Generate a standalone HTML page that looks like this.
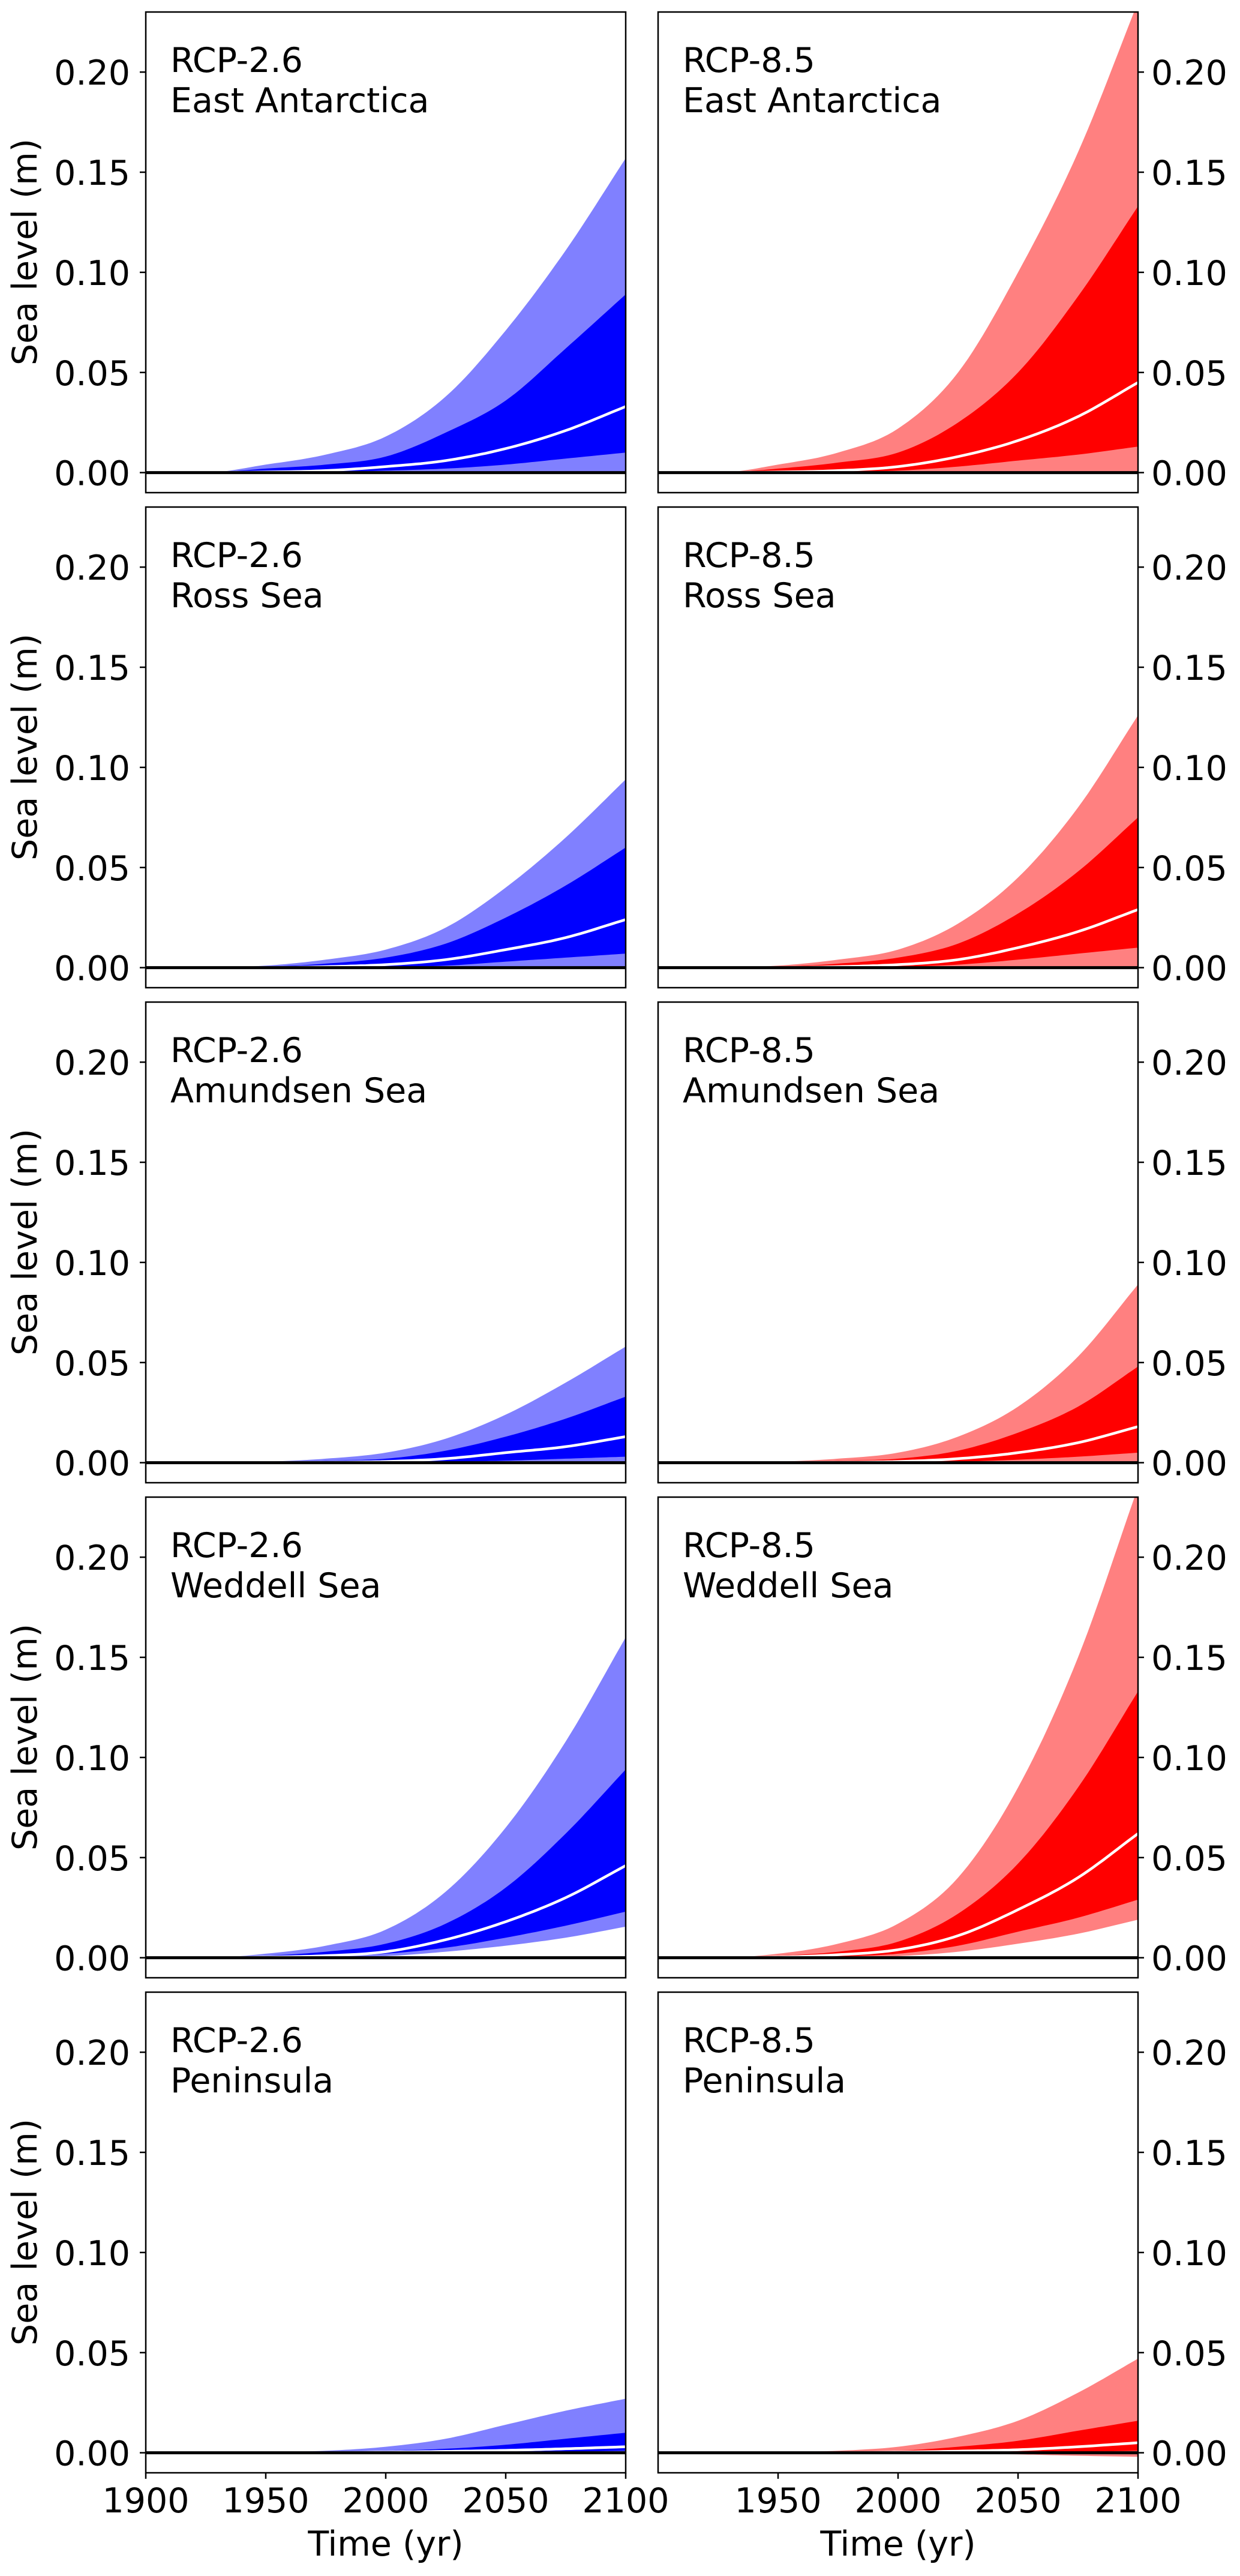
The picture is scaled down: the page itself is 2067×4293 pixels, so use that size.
<!DOCTYPE html>
<html><head><meta charset="utf-8"><style>
html,body{margin:0;padding:0;background:#fff}
svg text{font-family:"DejaVu Sans","Liberation Sans",sans-serif;font-size:57px;fill:#000}
</style></head><body>
<svg id="fig" xmlns="http://www.w3.org/2000/svg" width="2067" height="4288" viewBox="0 0 2067 4288"></svg>
<script>
const years = [1900,1925,1950,1975,2000,2025,2050,2075,2100];
const scenarios = ["RCP-2.6","RCP-8.5"];
const regions = ["East Antarctica","Ross Sea","Amundsen Sea","Weddell Sea","Peninsula"];
const yTicks = [0.00,0.05,0.10,0.15,0.20];
const yTickLabels = ["0.00","0.05","0.10","0.15","0.20"];
const xTicksLeft = [1900,1950,2000,2050,2100];
const xTicksRight = [1950,2000,2050,2100];
const outerHigh = [
 [0,0,0.004,0.009,0.018,0.038,0.071,0.111,0.157],
 [0,0,0.004,0.010,0.022,0.050,0.100,0.160,0.235],
 [0,0,0.001,0.004,0.009,0.020,0.040,0.065,0.094],
 [0,0,0.001,0.004,0.009,0.022,0.045,0.080,0.126],
 [0,0,0.0005,0.002,0.005,0.012,0.024,0.040,0.058],
 [0,0,0.0005,0.002,0.005,0.013,0.028,0.053,0.089],
 [0,0,0.002,0.006,0.014,0.033,0.065,0.108,0.160],
 [0,0,0.002,0.007,0.017,0.040,0.085,0.150,0.235],
 [0,0,0.0003,0.001,0.003,0.007,0.014,0.021,0.027],
 [0,0,0.0003,0.001,0.003,0.008,0.016,0.030,0.047]];
const innerHigh = [
 [0,0,0.002,0.004,0.008,0.020,0.036,0.062,0.089],
 [0,0,0.002,0.005,0.010,0.025,0.050,0.088,0.133],
 [0,0,0.0005,0.002,0.005,0.012,0.025,0.041,0.060],
 [0,0,0.0005,0.002,0.005,0.012,0.027,0.048,0.075],
 [0,0,0.0002,0.001,0.002,0.006,0.013,0.022,0.033],
 [0,0,0.0002,0.001,0.002,0.006,0.015,0.028,0.048],
 [0,0,0.001,0.003,0.007,0.017,0.035,0.062,0.094],
 [0,0,0.001,0.003,0.008,0.022,0.047,0.085,0.133],
 [0,0,0,0.0003,0.001,0.002,0.004,0.007,0.010],
 [0,0,0,0.0003,0.001,0.003,0.006,0.011,0.016]];
const median = [
 [0,0,0.0003,0.001,0.003,0.006,0.012,0.021,0.033],
 [0,0,0.0003,0.001,0.003,0.008,0.016,0.028,0.045],
 [0,0,0,0.0005,0.0015,0.004,0.009,0.015,0.024],
 [0,0,0,0.0005,0.0015,0.004,0.010,0.018,0.029],
 [0,0,0,0.0002,0.0006,0.002,0.005,0.008,0.013],
 [0,0,0,0.0002,0.0006,0.002,0.005,0.010,0.018],
 [0,0,0.0003,0.001,0.003,0.009,0.018,0.030,0.046],
 [0,0,0.0003,0.0015,0.004,0.011,0.024,0.040,0.062],
 [0,0,0,0,0.0003,0.0007,0.0012,0.002,0.003],
 [0,0,0,0,0.0003,0.0008,0.0015,0.003,0.005]];
const innerLow = [
 [0,0,0,0.0003,0.001,0.002,0.004,0.007,0.010],
 [0,0,0,0.0003,0.001,0.003,0.006,0.009,0.013],
 [0,0,0,0.0001,0.0005,0.001,0.003,0.005,0.007],
 [0,0,0,0.0001,0.0005,0.0015,0.004,0.007,0.010],
 [0,0,0,0,0.0002,0.0005,0.001,0.002,0.003],
 [0,0,0,0,0.0002,0.0005,0.0015,0.003,0.005],
 [0,0,0.0001,0.0006,0.002,0.005,0.010,0.016,0.023],
 [0,0,0.0001,0.0006,0.002,0.006,0.013,0.020,0.029],
 [0,0,0,0,0,0.0001,0.0003,0.0006,0.001],
 [0,0,0,0,0,0,0.0002,0.0005,0.001]];
const outerLow = [
 [0,0,0,0,0,0,0,0,0],
 [0,0,0,0,0,0,0,0,0],
 [0,0,0,0,0,0,0,0,0],
 [0,0,0,0,0,0,0,0,0],
 [0,0,0,0,0,0,0,0,0],
 [0,0,0,0,0,0,0,0,0],
 [0,0,0,0.0002,0.0008,0.003,0.006,0.010,0.0155],
 [0,0,0,0.0002,0.0008,0.003,0.007,0.012,0.019],
 [0,0,0,0,0,0,0,0,0],
 [0,0,0,0,0,-0.0003,-0.0008,-0.0015,-0.002]];

const NS = "http://www.w3.org/2000/svg";
const svg = document.getElementById("fig");
const colLeft = [243, 1097], panelW = 800, rowTop0 = 20, rowStep = 825, panelH = 801;
const yMin = -0.01, yMax = 0.23, xMin = 1900, xMax = 2100;
const lightCol = ["#8080ff","#ff8080"], darkCol = ["#0000ff","#ff0000"];
function mk(tag, attrs, parent){const e=document.createElementNS(NS,tag);for(const k in attrs)e.setAttribute(k,attrs[k]);(parent||svg).appendChild(e);return e;}
// monotone cubic interpolation -> dense pixel points
function smooth(xs, ys, n){
 const m=xs.length, d=[], t=new Array(m).fill(0);
 for(let i=0;i<m-1;i++) d.push((ys[i+1]-ys[i])/(xs[i+1]-xs[i]));
 t[0]=d[0]; t[m-1]=d[m-2];
 for(let i=1;i<m-1;i++){ t[i]=(d[i-1]*d[i]<=0)?0:(d[i-1]+d[i])/2; }
 for(let i=0;i<m-1;i++){
  if(d[i]===0){t[i]=0;t[i+1]=0;continue;}
  const a=t[i]/d[i], b=t[i+1]/d[i], s=a*a+b*b;
  if(s>9){const k=3/Math.sqrt(s); t[i]=k*a*d[i]; t[i+1]=k*b*d[i];}
 }
 const out=[];
 for(let i=0;i<m-1;i++){
  const h=xs[i+1]-xs[i];
  for(let j=0;j<n;j++){
   const u=j/n, h00=2*u*u*u-3*u*u+1, h10=u*u*u-2*u*u+u, h01=-2*u*u*u+3*u*u, h11=u*u*u-u*u;
   out.push([xs[i]+u*h, h00*ys[i]+h10*h*t[i]+h01*ys[i+1]+h11*h*t[i+1]]);
  }
 }
 out.push([xs[m-1], ys[m-1]]);
 return out;
}
const defs = mk("defs",{});
for(let r=0;r<5;r++){
 for(let c=0;c<2;c++){
  const idx=r*2+c;
  const x0=colLeft[c], y0=rowTop0+r*rowStep;
  const sx=v=>x0+(v-xMin)/(xMax-xMin)*panelW;
  const sy=v=>y0+(yMax-v)/(yMax-yMin)*panelH;
  const g=mk("g",{});
  
  
  const cp=mk("clipPath",{id:"cp"+idx},defs);
  mk("rect",{x:x0,y:y0,width:panelW,height:panelH},cp);
  const band=(lo,hi,col,name)=>{
   const top=smooth(years,hi[idx],12), bot=smooth(years,lo[idx],12).reverse();
   let d="M"+top.map(p=>sx(p[0]).toFixed(1)+","+sy(p[1]).toFixed(1)).join(" L");
   d+=" L"+bot.map(p=>sx(p[0]).toFixed(1)+","+sy(p[1]).toFixed(1)).join(" L")+"Z";
   const p=mk("path",{d:d,fill:col,"clip-path":"url(#cp"+idx+")"},g);
   
   
  };
  band(outerLow,outerHigh,lightCol[c],'outer-range-band');
  band(innerLow,innerHigh,darkCol[c],'inner-range-band');
  const mpts=smooth(years,median[idx],12);
  const ml=mk("polyline",{points:mpts.map(p=>sx(p[0]).toFixed(1)+","+sy(p[1]).toFixed(1)).join(" "),fill:"none",stroke:"#fff","stroke-width":4.5,"clip-path":"url(#cp"+idx+")"},g);
  
  
  const zl=mk("line",{x1:x0,x2:x0+panelW,y1:sy(0),y2:sy(0),stroke:"#000","stroke-width":5},g);
  
  
  const fr=mk("rect",{x:x0,y:y0,width:panelW,height:panelH,fill:"none",stroke:"#000","stroke-width":2.5},g);
  
  
  const t1=mk("text",{x:x0+41,y:y0+100},g); t1.textContent=scenarios[c];
  
  
  const t2=mk("text",{x:x0+41,y:y0+167},g); t2.textContent=regions[r];
  
  
  yTicks.forEach((v,i)=>{
   const y=sy(v);
   if(c===0){
    const tk=mk("line",{x1:x0-10,x2:x0,y1:y,y2:y,stroke:"#000","stroke-width":2.5},g);
    
    
    const tl=mk("text",{x:x0-26,y:y+21,"text-anchor":"end"},g); tl.textContent=yTickLabels[i];
    
    
   } else {
    const tk=mk("line",{x1:x0+panelW,x2:x0+panelW+10,y1:y,y2:y,stroke:"#000","stroke-width":2.5},g);
    
    
    const tl=mk("text",{x:x0+panelW+22,y:y+21},g); tl.textContent=yTickLabels[i];
    
    
   }
  });
  if(c===0){
   const yl=mk("text",{x:42,y:y0+400,"text-anchor":"middle","dominant-baseline":"central",transform:"rotate(-90 42 "+(y0+400)+")"},g);
   yl.textContent="Sea level (m)";
   
   
  }
  if(r===4){
   const xt=c===0?xTicksLeft:xTicksRight;
   xt.forEach(v=>{
    const x=sx(v);
    const tk=mk("line",{x1:x,x2:x,y1:y0+panelH,y2:y0+panelH+10,stroke:"#000","stroke-width":2.5},g);
    
    
    const tl=mk("text",{x:x,y:y0+panelH+66,"text-anchor":"middle"},g); tl.textContent=String(v);
    
    
   });
   const xl=mk("text",{x:x0+panelW/2,y:y0+panelH+138,"text-anchor":"middle"},g); xl.textContent="Time (yr)";
   
   
  }
 }
}
</script>
</body></html>
